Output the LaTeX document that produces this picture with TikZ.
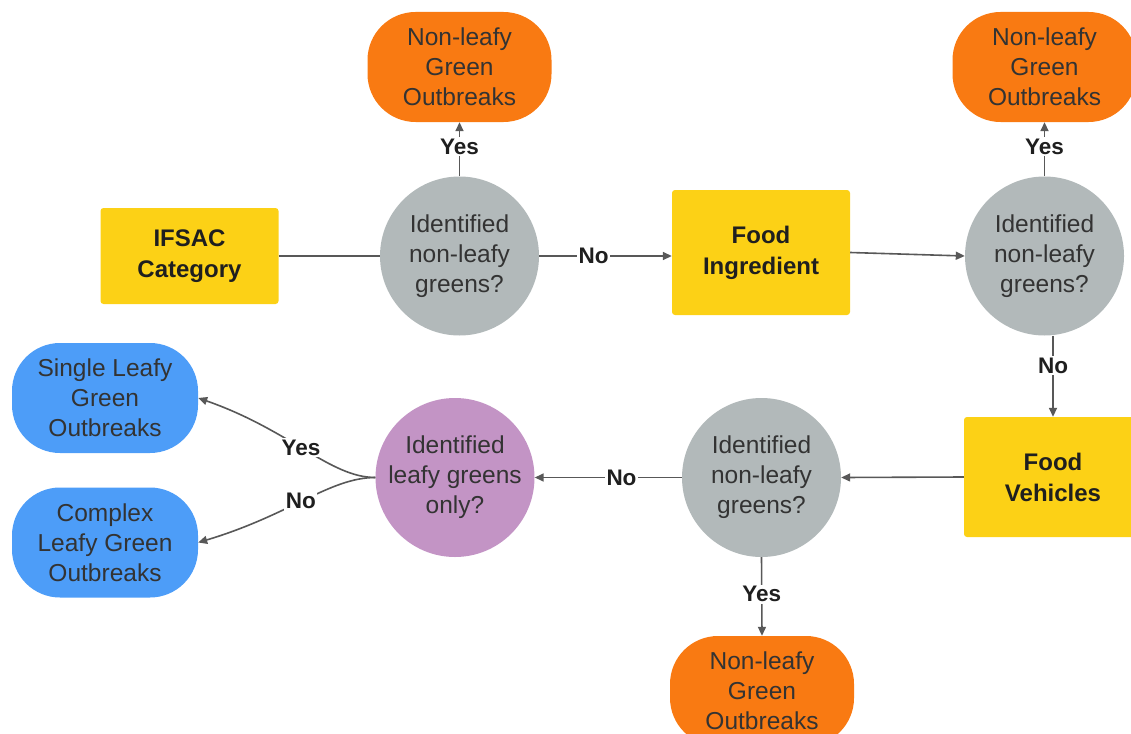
\documentclass[tikz,border=0pt]{standalone}
\usepackage{fontspec}
\setmainfont{Liberation Sans}
\usetikzlibrary{arrows.meta}
\definecolor{ylw}{HTML}{FCD116}
\definecolor{org}{HTML}{F97A12}
\definecolor{gry}{HTML}{B2B9BA}
\definecolor{prp}{HTML}{C394C5}
\definecolor{blu}{HTML}{4D9DF8}
\definecolor{txt}{HTML}{333333}
\definecolor{lin}{HTML}{585858}
\tikzset{
  ybox/.style={fill=ylw, rounded corners=3pt, minimum width=178pt, inner sep=0pt,
    align=center, text=black!88, font=\fontsize{24}{31}\selectfont\bfseries},
  decision/.style={circle, fill=#1, minimum size=159pt, inner sep=0pt, align=center,
    text=txt, font=\fontsize{24.5}{30}\selectfont},
  term/.style={fill=#1, rounded corners=48pt, minimum width=184pt, minimum height=110pt,
    inner sep=0pt, align=center, text=txt, font=\fontsize{24.5}{30}\selectfont},
  conn/.style={draw=lin, line width=1.6pt, -{Triangle[length=9pt,width=8pt]}},
  plain/.style={draw=lin, line width=1.6pt},
  lbl/.style={fill=white, inner sep=1.5pt, text=black!88, font=\fontsize{22.5}{26}\selectfont\bfseries}
}
\begin{document}
\begin{tikzpicture}[x=1pt,y=-1pt]
\useasboundingbox (0,0) rectangle (1131,733);
% nodes
\node[ybox, minimum height=96pt] (ifsac) at (189.5,256) {IFSAC\\Category};
\node[decision=gry] (c1) at (459.5,256) {Identified\\non-leafy\\greens?};
\node[term=org] (o1) at (459.5,67) {Non-leafy\\Green\\Outbreaks};
\node[ybox, minimum height=125pt] (fi) at (761,252.5) {Food\\Ingredient};
\node[decision=gry] (c2) at (1044.5,256) {Identified\\non-leafy\\greens?};
\node[term=org] (o2) at (1044.5,67) {Non-leafy\\Green\\Outbreaks};
\node[ybox, minimum height=120pt] (fv) at (1053,477) {Food\\Vehicles};
\node[decision=gry] (c3) at (761.5,477.5) {Identified\\non-leafy\\greens?};
\node[term=org] (o3) at (762,691) {Non-leafy\\Green\\Outbreaks};
\node[decision=prp] (p) at (455,477.5) {Identified\\leafy greens\\only?};
\node[term=blu, minimum width=186pt] (b1) at (105,398) {Single Leafy\\Green\\Outbreaks};
\node[term=blu, minimum width=186pt] (b2) at (105,542.5) {Complex\\Leafy Green\\Outbreaks};
% connectors
\draw[plain] (ifsac.east) -- (c1.west);
\draw[conn] (c1.east) -- node[lbl, pos=0.41] {No} (fi.west |- c1.east);
\draw[conn] (c1.north) -- node[lbl, pos=0.55] {Yes} (o1.south);
\draw[conn] (fi.east) -- (c2.west);
\draw[conn] (c2.north) -- node[lbl, pos=0.55] {Yes} (o2.south);
\draw[conn] (c2.south -| fv.north) -- node[lbl, pos=0.37] {No} (fv.north);
\draw[conn] (fv.west) -- (c3.east);
\draw[conn] (c3.west) -- node[lbl, pos=0.41] {No} (p.east);
\draw[conn] (c3.south) -- node[lbl, pos=0.47] {Yes} (o3.north);
\draw[conn] (p.west) .. controls (330,477.5) and (290,430) .. node[lbl, pos=0.52] {Yes} (b1.east);
\draw[conn] (p.west) .. controls (330,477.5) and (290,515) .. node[lbl, pos=0.52] {No} (b2.east);
\end{tikzpicture}
\end{document}
